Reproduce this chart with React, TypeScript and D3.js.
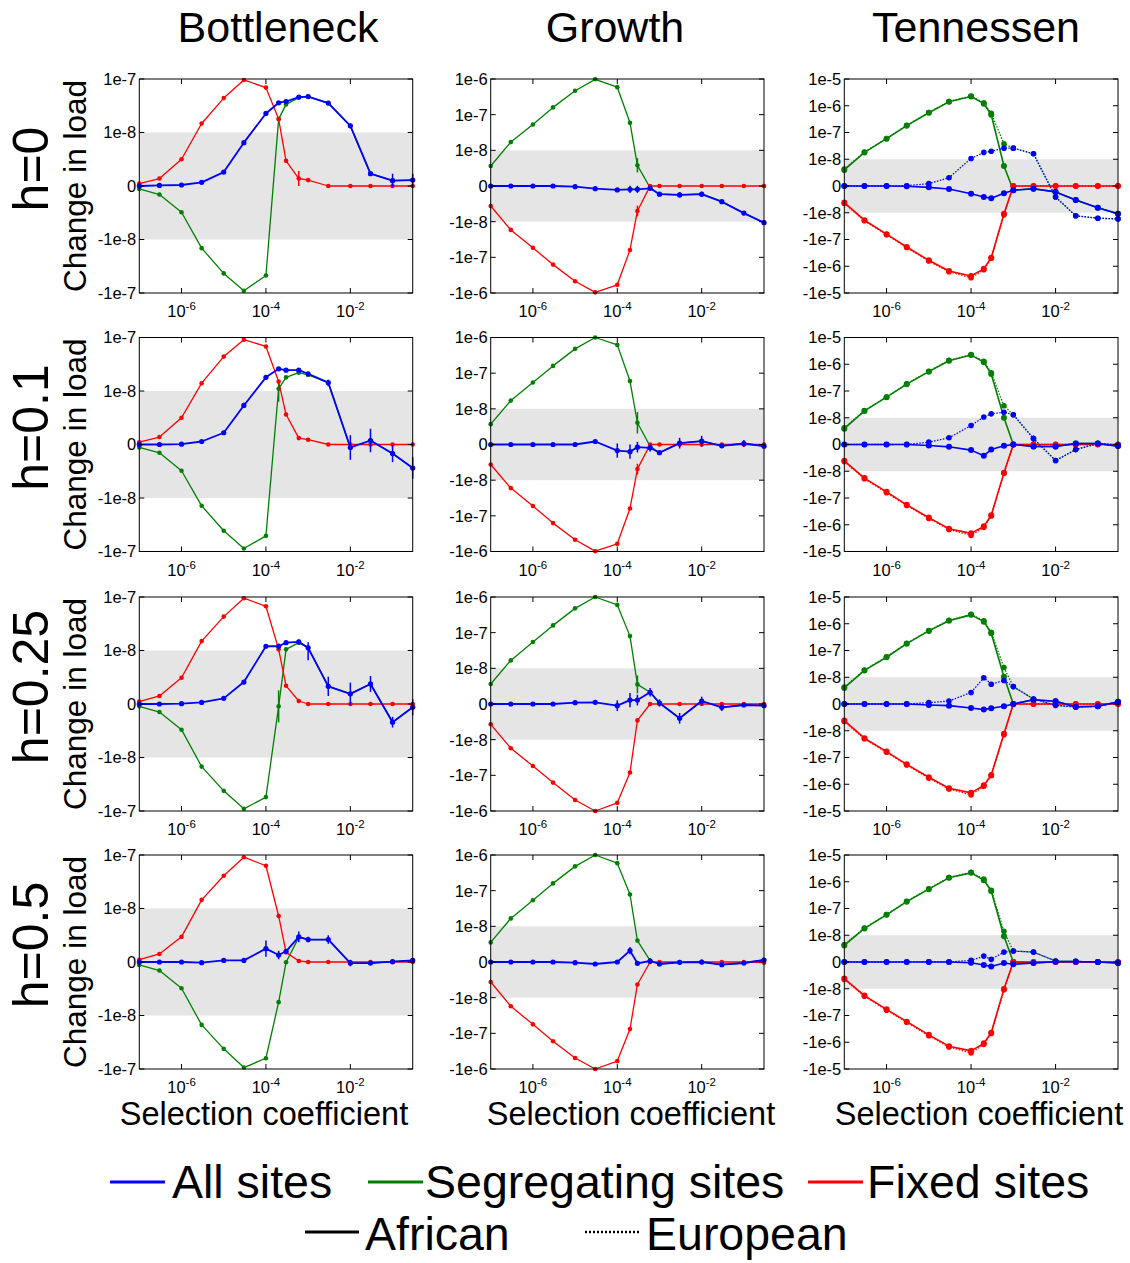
import React from "react";
import * as d3 from "d3";

// Selection coefficients (x)
const S = [1e-7, 3e-7, 1e-6, 3e-6, 1e-5, 3e-5, 1e-4, 2e-4, 3e-4, 6e-4, 1e-3, 3e-3, 1e-2, 3e-2, 1e-1, 3e-1];

const columnTitles = ["Bottleneck", "Growth", "Tennessen"];
const rowTitles = ["h=0", "h=0.1", "h=0.25", "h=0.5"];
const yTicksBottleneck = [1e-7, 1e-8, 0, -1e-8, -1e-7];
const yTicksGrowth = [1e-6, 1e-7, 1e-8, 0, -1e-8, -1e-7, -1e-6];
const yTicksTennessen = [1e-5, 1e-6, 1e-7, 1e-8, 0, -1e-8, -1e-7, -1e-6, -1e-5];
const xTicks = [1e-6, 1e-4, 1e-2];
const legendSeries = ["All sites", "Segregating sites", "Fixed sites"];
const legendPops = ["African", "European"];

// ---- Bottleneck ----
const bnAll_h0 = [0, 1e-10, 1.9e-10, 6.9e-10, 2.6e-9, 8.1e-9, 2.27e-8, 3.6e-8, 3.8e-8, 4.6e-8, 4.7e-8, 3.55e-8, 1.33e-8, 2.3e-9, 1.0e-9, 1.1e-9];
const bnSeg_h0 = [-5.6e-10, -1.6e-9, -4.9e-9, -1.45e-8, -4.3e-8, -9.1e-8, -4.7e-8, 1.78e-8, 3.35e-8, 4.5e-8, 4.7e-8, 3.55e-8, 1.33e-8, 2.3e-9, 1.0e-9, 1.1e-9];
const bnFix_h0 = [4.4e-10, 1.4e-9, 5e-9, 1.47e-8, 4.4e-8, 9.6e-8, 6.9e-8, 1.78e-8, 4.7e-9, 1.4e-9, 1.1e-9, 0, 0, 0, 0, 0];
const bnErrAll_h0 = [0, 0, 0, 0, 0, 0, 0, 0, 0, 0, 0, 0, 0, 0, 1.3e-9, 1.2e-9];
const bnErrFix_h0 = [0, 0, 0, 0, 0, 0, 0, 0, 0, 1.4e-9, 0, 0, 0, 0, 0, 0];

const bnAll_h01 = [0, 0, 6e-11, 5.6e-10, 2.2e-9, 7.3e-9, 1.8e-8, 2.6e-8, 2.45e-8, 2.45e-8, 2.1e-8, 1.43e-8, -5.6e-10, 7.5e-10, -1.7e-9, -4.4e-9];
const bnSeg_h01 = [-5.6e-10, -1.55e-9, -4.9e-9, -1.4e-8, -4.1e-8, -8.8e-8, -5.1e-8, 1.1e-8, 1.8e-8, 2.2e-8, 2e-8, 1.43e-8, -5.6e-10, 7.5e-10, -1.7e-9, -4.4e-9];
const bnFix_h01 = [4.3e-10, 1.4e-9, 5e-9, 1.4e-8, 4.4e-8, 9.1e-8, 6.8e-8, 1.5e-8, 5.6e-9, 1.2e-9, 9e-10, 0, 0, 0, 0, 0];
const bnErrAll_h01 = [0, 0, 0, 0, 0, 5e-10, 0, 0, 0, 0, 0, 2e-9, 2.3e-9, 2.2e-9, 1.6e-9, 2e-9];
const bnErrSeg_h01 = [0, 0, 0, 0, 0, 0, 0, 3e-9, 0, 0, 0, 0, 0, 0, 0, 0];

const bnAll_h025 = [0, 0, 6e-11, 3e-10, 1.06e-9, 4.1e-9, 1.2e-8, 1.2e-8, 1.4e-8, 1.45e-8, 1.12e-8, 3.3e-9, 1.9e-9, 3.75e-9, -3.4e-9, -6e-10];
const bnSeg_h025 = [-4.4e-10, -1.5e-9, -4.8e-9, -1.48e-8, -4.2e-8, -9.1e-8, -5.5e-8, -4.4e-10, 1.05e-8, 1.4e-8, 1.12e-8, 3.3e-9, 1.9e-9, 3.75e-9, -3.4e-9, -6e-10];
const bnFix_h025 = [4.4e-10, 1.5e-9, 4.9e-9, 1.5e-8, 4.3e-8, 9.5e-8, 6.7e-8, 1.05e-8, 3.4e-9, 5.6e-10, 0, 0, 0, 0, 0, 0];
const bnErrAll_h025 = [0, 0, 0, 0, 0, 4e-10, 0, 1.5e-9, 0, 1.5e-9, 3e-9, 1.8e-9, 2.1e-9, 1.5e-9, 1e-9, 1.5e-9];
const bnErrSeg_h025 = [0, 0, 0, 0, 0, 0, 0, 3e-9, 0, 0, 0, 0, 0, 0, 0, 0];

const bnAll_h05 = [0, 0, 0, -1.2e-10, 3e-10, 3e-10, 2.5e-9, 1.3e-9, 2e-9, 4.7e-9, 4.2e-9, 4.2e-9, -2e-10, -2e-10, 6e-11, 3e-10];
const bnSeg_h05 = [-5.6e-10, -1.6e-9, -4.9e-9, -1.5e-8, -4.2e-8, -9.4e-8, -6.3e-8, -7.5e-9, -5e-11, 4.6e-9, 4.2e-9, 4.2e-9, -2e-10, -2e-10, 6e-11, 3e-10];
const bnFix_h05 = [4.3e-10, 1.5e-9, 4.7e-9, 1.45e-8, 4.1e-8, 9.1e-8, 6.3e-8, 8.6e-9, 1.8e-9, 2e-10, 0, 0, 0, 0, 0, 0];
const bnErrAll_h05 = [0, 0, 0, 0, 0, 0, 1.5e-9, 8e-10, 0, 1e-9, 5e-10, 8e-10, 6e-10, 0, 4e-10, 4e-10];

// ---- Growth ----
const grAll_h0 = [0, 0, 0, 0, -1.9e-10, -7.5e-10, -1.1e-9, -9.3e-10, -9.3e-10, -6.5e-10, -2.3e-9, -2.5e-9, -2.3e-9, -4.4e-9, -7.6e-9, -1.07e-8];
const grSeg_h0 = [5.6e-9, 1.7e-8, 5.3e-8, 1.6e-7, 4.7e-7, 9.8e-7, 5.9e-7, 5.9e-8, 5.8e-9, -5e-10, -2.3e-9, -2.5e-9, -2.3e-9, -4.4e-9, -7.6e-9, -1.07e-8];
const grFix_h0 = [-5.6e-9, -1.7e-8, -5.4e-8, -1.6e-7, -4.7e-7, -9.6e-7, -5.9e-7, -6.2e-8, -7e-9, 0, 0, 0, 0, 0, 0, 0];
const grErrAll_h0 = [0, 0, 0, 0, 0, 0, 0, 1e-9, 1e-9, 0, 0, 7e-10, 7e-10, 0, 0, 0];
const grErrSeg_h0 = [0, 0, 0, 0, 0, 0, 0, 0, 2e-9, 0, 0, 0, 0, 0, 0, 0];
const grErrFix_h0 = [0, 0, 0, 0, 0, 0, 0, 0, 1.5e-9, 0, 0, 0, 0, 0, 0, 0];

const grAll_h01 = [0, 0, 0, 0, 0, 8.4e-10, -1.7e-9, -2e-9, -7.5e-10, -9.3e-10, -2.3e-9, 3.7e-10, 9.3e-10, -3.7e-10, 2.8e-10, -4.7e-10];
const grSeg_h01 = [5.7e-9, 1.7e-8, 5.5e-8, 1.6e-7, 4.8e-7, 1e-6, 6.2e-7, 6e-8, 6.1e-9, -5e-10, -2.3e-9, 3.7e-10, 9.3e-10, -3.7e-10, 2.8e-10, -4.7e-10];
const grFix_h01 = [-5.6e-9, -1.67e-8, -5.3e-8, -1.6e-7, -4.7e-7, -9.8e-7, -6.1e-7, -6.2e-8, -6.9e-9, 0, 0, 0, 0, 0, 0, 0];
const grErrAll_h01 = [0, 0, 0, 0, 0, 0, 2e-9, 2e-9, 1.5e-9, 1e-9, 0, 1.5e-9, 1.5e-9, 0, 1e-9, 5e-10];
const grErrSeg_h01 = [0, 0, 0, 0, 0, 0, 0, 0, 3e-9, 0, 0, 0, 0, 0, 0, 0];
const grErrFix_h01 = [0, 0, 0, 0, 0, 0, 0, 0, 1.5e-9, 0, 0, 0, 0, 0, 0, 0];

const grAll_h025 = [0, 0, 0, 0, 3.7e-10, 4.7e-10, -4.7e-10, 1.1e-9, 1.1e-9, 3.3e-9, 2.8e-10, -4e-9, 8.4e-10, -9.3e-10, -2.8e-10, -4.7e-10];
const grSeg_h025 = [5.6e-9, 1.67e-8, 5.5e-8, 1.6e-7, 4.8e-7, 1e-6, 6e-7, 8e-8, 5.5e-9, 3.3e-9, 2.8e-10, -4e-9, 8.4e-10, -9.3e-10, -2.8e-10, -4.7e-10];
const grFix_h025 = [-5.7e-9, -1.74e-8, -5.5e-8, -1.6e-7, -4.9e-7, -1e-6, -5.9e-7, -8.3e-8, -4.6e-9, 0, 0, 0, 0, 0, 0, 0];
const grErrAll_h025 = [0, 0, 0, 0, 0, 0, 1.5e-9, 2e-9, 1.5e-9, 1.2e-9, 1e-9, 1.5e-9, 1.2e-9, 1e-9, 0, 0];
const grErrSeg_h025 = [0, 0, 0, 0, 0, 0, 0, 0, 2.5e-9, 0, 0, 0, 0, 0, 0, 0];

const grAll_h05 = [0, 0, 0, 0, -1.9e-10, -5.6e-10, 0, 3.2e-9, -3.7e-10, 2.8e-10, -5.6e-10, -1e-10, 0, -7.5e-10, -2.8e-10, 5.6e-10];
const grSeg_h05 = [5.5e-9, 1.67e-8, 5.4e-8, 1.6e-7, 4.8e-7, 1e-6, 5.9e-7, 7.8e-8, 6e-9, 3.7e-10, -5.6e-10, -1e-10, 0, -7.5e-10, -2.8e-10, 5.6e-10];
const grFix_h05 = [-5.6e-9, -1.74e-8, -5.6e-8, -1.66e-7, -4.9e-7, -1e-6, -6e-7, -7.6e-8, -6.3e-9, 0, 0, 0, 0, 0, 0, -2e-10];
const grErrAll_h05 = [0, 0, 0, 0, 0, 0, 0, 1e-9, 0, 8e-10, 0, 0, 7e-10, 0, 0, 0];

// ---- Tennessen (Afr = African, solid; Eur = European, dotted) ----
const tnAllAfr_h0 = [0, 0, 0, -1.2e-10, -5e-10, -1.1e-9, -2.9e-9, -4.1e-9, -4.6e-9, -2.7e-9, -1.6e-9, -1e-9, -2.2e-9, -5.2e-9, -8.1e-9, -1.1e-8];
const tnAllEur_h0 = [0, 0, 0, 1.2e-10, 8.7e-10, 3.1e-9, 1.07e-8, 1.8e-8, 2e-8, 2.6e-8, 2.6e-8, 1.6e-8, -4.1e-9, -1.3e-8, -1.6e-8, -1.7e-8];
const tnSegAfr_h0 = [6e-9, 1.8e-8, 5.9e-8, 1.8e-7, 5.5e-7, 1.4e-6, 2.2e-6, 1.2e-6, 4.6e-7, 7.5e-9, -1.6e-9, -1e-9, -2.2e-9, -5.2e-9, -8.1e-9, -1.1e-8];
const tnSegEur_h0 = [6.3e-9, 1.85e-8, 6e-8, 1.85e-7, 5.6e-7, 1.45e-6, 2.3e-6, 1.3e-6, 5.2e-7, 3.8e-8, 2.6e-8, 1.6e-8, -4.1e-9, -1.3e-8, -1.6e-8, -1.7e-8];
const tnFixAfr_h0 = [-6.2e-9, -1.9e-8, -6.3e-8, -1.9e-7, -6e-7, -1.5e-6, -2.3e-6, -1.25e-6, -4.8e-7, -1.1e-8, 0, 0, 0, 0, 0, 0];
const tnFixEur_h0 = [-6.5e-9, -2e-8, -6.6e-8, -2e-7, -6.4e-7, -1.6e-6, -2.7e-6, -1.35e-6, -5e-7, -1.2e-8, 0, 0, 0, 0, 0, 0];

const tnAllAfr_h01 = [0, 0, 0, 0, -3.7e-10, -8.7e-10, -2.1e-9, -4.2e-9, -1.9e-9, -5e-10, 0, -7.4e-10, -7.4e-10, 3.7e-10, 3.7e-10, -6e-10];
const tnAllEur_h01 = [0, 0, 0, 2.5e-11, 8.7e-10, 2.5e-9, 7.1e-9, 1.07e-8, 1.4e-8, 1.6e-8, 1.3e-8, 2.2e-9, -6e-9, -1.9e-9, 3.7e-10, -2.5e-10];
const tnSegAfr_h01 = [5.9e-9, 1.8e-8, 5.9e-8, 1.8e-7, 5.3e-7, 1.35e-6, 2.2e-6, 1.2e-6, 4.3e-7, 1e-8, 0, -7.4e-10, -7.4e-10, 3.7e-10, 3.7e-10, -6e-10];
const tnSegEur_h01 = [6.2e-9, 1.85e-8, 6e-8, 1.85e-7, 5.5e-7, 1.4e-6, 2.3e-6, 1.3e-6, 4.8e-7, 2.8e-8, 1.3e-8, 2.2e-9, -6e-9, -1.9e-9, 3.7e-10, -2.5e-10];
const tnFixAfr_h01 = [-6.1e-9, -1.8e-8, -5.9e-8, -1.8e-7, -5.4e-7, -1.4e-6, -2.1e-6, -1.15e-6, -4.4e-7, -1.15e-8, 0, 0, 0, 0, 0, 0];
const tnFixEur_h01 = [-6.4e-9, -1.9e-8, -6.3e-8, -1.9e-7, -5.8e-7, -1.5e-6, -2.5e-6, -1.25e-6, -4.7e-7, -1.2e-8, 0, 0, 0, 0, 0, 0];
const tnErrAfr_h01 = [0, 0, 0, 0, 0, 0, 0, 0, 0, 0, 0, 8e-10, 8e-10, 0, 0, 0];
const tnErrEur_h01 = [0, 0, 0, 0, 0, 0, 0, 0, 0, 0, 0, 1.2e-9, 8e-10, 0, 0, 0];

const tnAllAfr_h025 = [0, 0, 0, 0, -3.7e-10, -6.2e-10, -1.5e-9, -2.1e-9, -1.6e-9, -8.6e-10, 0, 1.6e-9, 1e-9, -1e-9, -8.6e-10, 8.6e-10];
const tnAllEur_h025 = [0, 0, 0, 0, 5e-10, 1.1e-9, 4.3e-9, 9.8e-9, 7.4e-9, 8.8e-9, 6.5e-9, 1.85e-9, -5e-10, -1.1e-9, -8.6e-10, 6e-10];
const tnSegAfr_h025 = [6e-9, 1.8e-8, 5.6e-8, 1.8e-7, 5.4e-7, 1.3e-6, 2.15e-6, 1.2e-6, 4.4e-7, 1.05e-8, 0, 1.6e-9, 1e-9, -1e-9, -8.6e-10, 8.6e-10];
const tnSegEur_h025 = [6.3e-9, 1.85e-8, 5.8e-8, 1.85e-7, 5.6e-7, 1.35e-6, 2.25e-6, 1.3e-6, 4.8e-7, 2.3e-8, 6.5e-9, 1.85e-9, -5e-10, -1.1e-9, -8.6e-10, 6e-10];
const tnFixAfr_h025 = [-6.2e-9, -1.9e-8, -6e-8, -1.8e-7, -5.5e-7, -1.4e-6, -2.1e-6, -1.1e-6, -4.5e-7, -1.3e-8, 0, 0, 0, 0, 0, 0];
const tnFixEur_h025 = [-6.5e-9, -2e-8, -6.4e-8, -1.9e-7, -5.9e-7, -1.5e-6, -2.5e-6, -1.2e-6, -4.8e-7, -1.4e-8, 0, 0, 0, 0, 0, 0];
const tnErrAfr_h025 = [0, 0, 0, 0, 0, 0, 0, 0, 0, 0, 0, 0, 8e-10, 0, 0, 0];
const tnErrEur_h025 = [0, 0, 0, 0, 0, 0, 8e-10, 0, 0, 8e-10, 8e-10, 0, 1e-9, 0, 0, 0];

const tnAllAfr_h05 = [0, 0, 0, 0, 0, 0, -3e-10, -1.1e-9, -1.7e-9, -3.7e-10, -8.6e-10, -3.7e-10, 1.2e-10, 1.2e-10, 0, -3.7e-10];
const tnAllEur_h05 = [0, 0, 0, 0, 1.2e-10, 0, 6e-10, 2.2e-9, 1e-9, 3.7e-9, 4.1e-9, 3.7e-9, 3.7e-10, 2.5e-10, 0, -2.5e-10];
const tnSegAfr_h05 = [6.2e-9, 1.8e-8, 5.8e-8, 1.8e-7, 5.3e-7, 1.4e-6, 2.15e-6, 1.15e-6, 4.5e-7, 9.6e-9, 0, -3.7e-10, 1.2e-10, 1.2e-10, 0, -3.7e-10];
const tnSegEur_h05 = [6.5e-9, 1.85e-8, 6e-8, 1.85e-7, 5.5e-7, 1.45e-6, 2.25e-6, 1.25e-6, 4.8e-7, 1.4e-8, 4.1e-9, 3.7e-9, 3.7e-10, 2.5e-10, 0, -2.5e-10];
const tnFixAfr_h05 = [-6.2e-9, -1.8e-8, -5.9e-8, -1.7e-7, -5.3e-7, -1.4e-6, -2.1e-6, -1.1e-6, -4.4e-7, -1.03e-8, 0, 0, 0, 0, 0, 0];
const tnFixEur_h05 = [-6.5e-9, -1.9e-8, -6.3e-8, -1.8e-7, -5.7e-7, -1.5e-6, -2.5e-6, -1.2e-6, -4.7e-7, -1.1e-8, 0, 0, 0, 0, 0, 0];
const tnErrEur_h05 = [0, 0, 0, 0, 0, 0, 0, 6e-10, 0, 0, 0, 7e-10, 0, 0, 0, 0];

const BLUE = "#0000ff";
const GREEN = "#008000";
const RED = "#ff0000";
const FONT = "Arial, 'Liberation Sans', Helvetica, sans-serif";

const COL_X = [[139.3, 412.7], [490.7, 764], [844.3, 1118]];
const ROW_Y = [79, 337.5, 597, 855];
const PH = 214;
const KMAX = [2, 3, 4];
const YTICKS = [yTicksBottleneck, yTicksGrowth, yTicksTennessen];
const TITLE_X = [278, 615, 976];
const XLABEL_X = [264, 631, 979];

type Series = { vals: number[]; err?: number[]; color: string; width: number; dash?: string; r: number };
type PanelDef = { row: number; col: number; series: Series[] };

function simple(all: number[], seg: number[], fix: number[], eAll?: number[], eSeg?: number[], eFix?: number[]): Series[] {
  return [
    { vals: seg, err: eSeg, color: GREEN, width: 1.3, r: 2.3 },
    { vals: fix, err: eFix, color: RED, width: 1.3, r: 2.3 },
    { vals: all, err: eAll, color: BLUE, width: 1.8, r: 2.6 },
  ];
}
function tenn(allA: number[], allE: number[], segA: number[], segE: number[], fixA: number[], fixE: number[], eA?: number[], eE?: number[]): Series[] {
  return [
    { vals: segA, color: GREEN, width: 1.6, r: 3 },
    { vals: segE, color: GREEN, width: 1.3, dash: "1.5 1.5", r: 2.8 },
    { vals: fixA, color: RED, width: 1.6, r: 3 },
    { vals: fixE, color: RED, width: 1.3, dash: "1.5 1.5", r: 2.8 },
    { vals: allA, err: eA, color: BLUE, width: 1.6, r: 3 },
    { vals: allE, err: eE, color: BLUE, width: 1.3, dash: "1.5 1.5", r: 2.8 },
  ];
}

const panels: PanelDef[] = [
  { row: 0, col: 0, series: simple(bnAll_h0, bnSeg_h0, bnFix_h0, bnErrAll_h0, undefined, bnErrFix_h0) },
  { row: 1, col: 0, series: simple(bnAll_h01, bnSeg_h01, bnFix_h01, bnErrAll_h01, bnErrSeg_h01) },
  { row: 2, col: 0, series: simple(bnAll_h025, bnSeg_h025, bnFix_h025, bnErrAll_h025, bnErrSeg_h025) },
  { row: 3, col: 0, series: simple(bnAll_h05, bnSeg_h05, bnFix_h05, bnErrAll_h05) },
  { row: 0, col: 1, series: simple(grAll_h0, grSeg_h0, grFix_h0, grErrAll_h0, grErrSeg_h0, grErrFix_h0) },
  { row: 1, col: 1, series: simple(grAll_h01, grSeg_h01, grFix_h01, grErrAll_h01, grErrSeg_h01, grErrFix_h01) },
  { row: 2, col: 1, series: simple(grAll_h025, grSeg_h025, grFix_h025, grErrAll_h025, grErrSeg_h025) },
  { row: 3, col: 1, series: simple(grAll_h05, grSeg_h05, grFix_h05, grErrAll_h05) },
  { row: 0, col: 2, series: tenn(tnAllAfr_h0, tnAllEur_h0, tnSegAfr_h0, tnSegEur_h0, tnFixAfr_h0, tnFixEur_h0) },
  { row: 1, col: 2, series: tenn(tnAllAfr_h01, tnAllEur_h01, tnSegAfr_h01, tnSegEur_h01, tnFixAfr_h01, tnFixEur_h01, tnErrAfr_h01, tnErrEur_h01) },
  { row: 2, col: 2, series: tenn(tnAllAfr_h025, tnAllEur_h025, tnSegAfr_h025, tnSegEur_h025, tnFixAfr_h025, tnFixEur_h025, tnErrAfr_h025, tnErrEur_h025) },
  { row: 3, col: 2, series: tenn(tnAllAfr_h05, tnAllEur_h05, tnSegAfr_h05, tnSegEur_h05, tnFixAfr_h05, tnFixEur_h05, undefined, tnErrEur_h05) },
];

// symmetric log-like transform: linear within |v| <= 1e-8, one unit per decade beyond
function tf(v: number): number {
  const a = Math.abs(v);
  const u = a <= 1e-8 ? a / 1e-8 : 1 + Math.log10(a / 1e-8);
  return Math.sign(v) * u;
}

function tickLabel(v: number): string {
  if (v === 0) return "0";
  const e = Math.round(Math.log10(Math.abs(v)));
  return (v < 0 ? "-" : "") + "1e" + e;
}

function Panel({ p }: { p: PanelDef }) {
  const [x0, x1] = COL_X[p.col];
  const y0 = ROW_Y[p.row];
  const k = KMAX[p.col];
  const x = d3.scaleLog().domain([1e-7, 0.3]).range([x0, x1]);
  const yl = d3.scaleLinear().domain([-k, k]).range([y0 + PH, y0]);
  const y = (v: number) => yl(tf(v));
  const line = d3
    .line<number>()
    .x((_, i) => x(S[i]))
    .y((d) => y(d));
  const tl = 5;
  return (
    <g>
      <rect x={x0} y={yl(1)} width={x1 - x0} height={yl(-1) - yl(1)} fill="#e5e5e5" />
      {p.series.map((s, si) => (
        <g key={si}>
          {s.err &&
            s.err.map((e, i) =>
              e > 0 ? (
                <line key={i} x1={x(S[i])} x2={x(S[i])} y1={y(s.vals[i] - e)} y2={y(s.vals[i] + e)} stroke={s.color} strokeWidth={1.5} />
              ) : null
            )}
          <path d={line(s.vals) || ""} fill="none" stroke={s.color} strokeWidth={s.width} strokeDasharray={s.dash} strokeLinejoin="round" />
          {s.vals.map((v, i) => (
            <circle key={i} cx={x(S[i])} cy={y(v)} r={s.r} fill={s.color} />
          ))}
        </g>
      ))}
      <rect x={x0} y={y0} width={x1 - x0} height={PH} fill="none" stroke="#000" strokeWidth={1} />
      {YTICKS[p.col].map((t) => (
        <g key={t}>
          <line x1={x0} x2={x0 + tl} y1={y(t)} y2={y(t)} stroke="#000" />
          <line x1={x1} x2={x1 - tl} y1={y(t)} y2={y(t)} stroke="#000" />
          <text x={x0 - 3} y={y(t)} dy="0.36em" textAnchor="end" fontSize={16.5} fontFamily={FONT} fill="#000">
            {tickLabel(t)}
          </text>
        </g>
      ))}
      {xTicks.map((t) => (
        <g key={t}>
          <line x1={x(t)} x2={x(t)} y1={y0 + PH} y2={y0 + PH - tl} stroke="#000" />
          <line x1={x(t)} x2={x(t)} y1={y0} y2={y0 + tl} stroke="#000" />
          <text x={x(t)} y={y0 + PH + 24} textAnchor="middle" fontSize={16.5} fontFamily={FONT} fill="#000">
            10
            <tspan dy={-7} fontSize={11.5}>
              {String(Math.round(Math.log10(t)))}
            </tspan>
          </text>
        </g>
      ))}
    </g>
  );
}

export default function App() {
  const legendColors = [BLUE, GREEN, RED];
  const legLineX = [110, 368, 808];
  const legTextX = [172, 425, 867];
  const popLineX = [305, 585];
  const popTextX = [365, 646];
  return (
    <svg width={1130} height={1263} style={{ position: "absolute", left: 0, top: 0, background: "#fff" }} fontFamily={FONT}>
      <rect width={1130} height={1263} fill="#fff" />
      {columnTitles.map((t, i) => (
        <text key={t} x={TITLE_X[i]} y={42} textAnchor="middle" fontSize={43} fill="#000">
          {t}
        </text>
      ))}
      {rowTitles.map((t, r) => {
        const cy = ROW_Y[r] + PH / 2;
        return (
          <g key={t}>
            <text transform={`translate(48,${cy - 17}) rotate(-90)`} textAnchor="middle" fontSize={50} fill="#000">
              {t}
            </text>
            <text transform={`translate(86,${cy}) rotate(-90)`} textAnchor="middle" fontSize={31.5} fill="#000">
              Change in load
            </text>
          </g>
        );
      })}
      {panels.map((p, i) => (
        <Panel key={i} p={p} />
      ))}
      {XLABEL_X.map((cx, i) => (
        <text key={i} x={cx} y={1125} textAnchor="middle" fontSize={32.5} fill="#000">
          Selection coefficient
        </text>
      ))}
      {legendSeries.map((t, i) => (
        <g key={t}>
          <line x1={legLineX[i]} x2={legLineX[i] + 55} y1={1182} y2={1182} stroke={legendColors[i]} strokeWidth={3} />
          <text x={legTextX[i]} y={1198} fontSize={46.5} fill="#000">
            {t}
          </text>
        </g>
      ))}
      {legendPops.map((t, i) => (
        <g key={t}>
          <line x1={popLineX[i]} x2={popLineX[i] + 54} y1={1232} y2={1232} stroke="#000" strokeWidth={i === 0 ? 3 : 2.5} strokeDasharray={i === 0 ? undefined : "2 2"} />
          <text x={popTextX[i]} y={1250} fontSize={46.5} fill="#000">
            {t}
          </text>
        </g>
      ))}
    </svg>
  );
}
